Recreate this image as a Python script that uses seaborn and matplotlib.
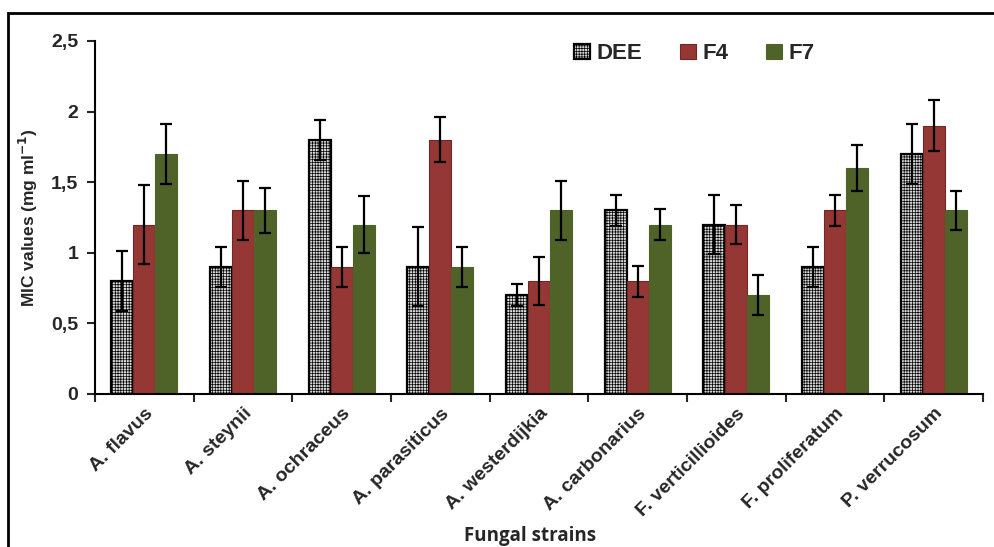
import matplotlib
matplotlib.use("Agg")
import matplotlib.pyplot as plt
import seaborn as sns
import pandas as pd
import numpy as np
from matplotlib.patches import Rectangle, Patch

strains = ["A. flavus", "A. steynii", "A. ochraceus", "A. parasiticus", "A. westerdijkia",
           "A. carbonarius", "F. verticillioides", "F. proliferatum", "P. verrucosum"]
series = ["DEE", "F4", "F7"]
dee = [0.8, 0.9, 1.8, 0.9, 0.7, 1.3, 1.2, 0.9, 1.7]
f4 = [1.2, 1.3, 0.9, 1.8, 0.8, 0.8, 1.2, 1.3, 1.9]
f7 = [1.7, 1.3, 1.2, 0.9, 1.3, 1.2, 0.7, 1.6, 1.3]
dee_err = [0.21, 0.14, 0.14, 0.28, 0.08, 0.11, 0.21, 0.14, 0.21]
f4_err = [0.28, 0.21, 0.14, 0.16, 0.17, 0.11, 0.14, 0.11, 0.18]
f7_err = [0.21, 0.16, 0.20, 0.14, 0.21, 0.11, 0.14, 0.16, 0.14]
yticks = [0, 0.5, 1, 1.5, 2, 2.5]
ytick_labels = ["0", "0,5", "1", "1,5", "2", "2,5"]

sns.set_style("white")
plt.rcParams['font.family'] = ['Liberation Sans', 'DejaVu Sans']
plt.rcParams['hatch.linewidth'] = 0.5

df = pd.DataFrame({
    "strain": strains * 3,
    "series": [s for s in series for _ in strains],
    "value": dee + f4 + f7,
    "err": dee_err + f4_err + f7_err,
})

fig = plt.figure(figsize=(9.95, 5.47), dpi=100)
ax = fig.add_axes([95/995, 1-394/547, 888/995, 353/547])

palette = {"DEE": "#d9d9d9", "F4": "#953735", "F7": "#4f6228"}
sns.barplot(data=df, x="strain", y="value", hue="series", palette=palette,
            order=strains, hue_order=series, width=0.67, errorbar=None,
            saturation=1, ax=ax, legend=False)

edgecols = {"DEE": "black", "F4": "#6e2826", "F7": "#4f6228"}
hatches = {"DEE": "++++++", "F4": None, "F7": None}
lws = {"DEE": 1.6, "F4": 0.8, "F7": 0.8}
for cont, s in zip(ax.containers, series):
    errs = df[df.series == s]["err"].values
    vals = df[df.series == s]["value"].values
    xs = []
    for bar in cont:
        bar.set_edgecolor(edgecols[s])
        bar.set_linewidth(lws[s])
        if hatches[s]:
            bar.set_hatch(hatches[s])
        xs.append(bar.get_x() + bar.get_width() / 2)
    ax.errorbar(xs, vals, yerr=errs, fmt="none", ecolor="black",
                elinewidth=1.6, capsize=4, capthick=1.6, zorder=5)

ax.set_ylim(0, 2.5)
ax.set_xlim(-0.5, 8.5)
ax.set_yticks(yticks)
ax.set_yticklabels(ytick_labels, fontsize=14, fontweight="bold")
ax.set_xticks(range(len(strains)))
ax.set_xticklabels(strains, rotation=45, ha="right", rotation_mode="anchor",
                   fontsize=14, fontweight="bold")
ax.tick_params(axis="x", which="major", length=0, pad=8)
ax.set_xticks(np.arange(-0.5, 9, 1), minor=True)
ax.tick_params(axis="x", which="minor", length=6, width=1.5, direction="out", bottom=True)
ax.tick_params(axis="y", length=6, width=1.5, direction="out", left=True, pad=6)

for side in ["top", "right"]:
    ax.spines[side].set_visible(False)
for side in ["left", "bottom"]:
    ax.spines[side].set_linewidth(1.5)
    ax.spines[side].set_color("black")

ax.set_ylabel("MIC values (mg ml$^{\\mathbf{-1}}$)", fontsize=12.5, fontweight="bold", labelpad=8)
ax.set_xlabel("Fungal strains", fontsize=13.5, fontweight="bold", family=["Open Sans", "DejaVu Sans"])
ax.xaxis.set_label_coords(0.49, -0.375)

handles = [Patch(facecolor=palette[s], edgecolor=edgecols[s], linewidth=lws[s],
                 hatch=hatches[s]) for s in series]
leg = ax.legend(handles, series, loc="upper center", bbox_to_anchor=(0.675, 1.05), ncol=3,
                frameon=False, prop={"weight": "bold", "size": 16}, handlelength=0.7,
                handleheight=0.7, columnspacing=1.7, handletextpad=0.3)

fig.patches.append(Rectangle((8/995, -0.1), 1.2, (547-13)/547 + 0.1, transform=fig.transFigure,
                             fill=False, edgecolor="black", linewidth=2))

fig.savefig("out.png", dpi=100)
